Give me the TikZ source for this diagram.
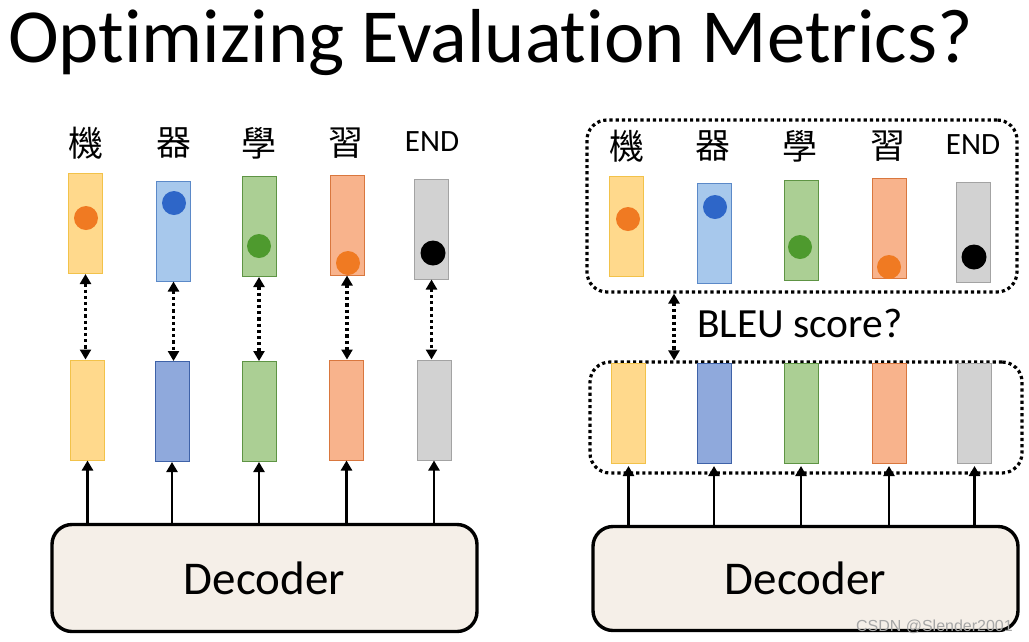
\documentclass[tikz,border=0pt]{standalone}
\usepackage{fontspec}
\setmainfont[Ligatures={NoCommon,NoRare}]{Carlito}
\newfontfamily\cjk{Noto Sans CJK TC}
\newfontfamily\wmfont{Liberation Sans}
\usetikzlibrary{arrows.meta}
\definecolor{yelF}{HTML}{FFD98C}\definecolor{yelD}{HTML}{F2C24A}
\definecolor{bluF}{HTML}{A7C8EC}\definecolor{bluD}{HTML}{5B89C8}
\definecolor{blu2F}{HTML}{8FA9DC}\definecolor{blu2D}{HTML}{3E62A8}
\definecolor{grnF}{HTML}{ABCF94}\definecolor{grnD}{HTML}{5E9444}
\definecolor{orgF}{HTML}{F8B38C}\definecolor{orgD}{HTML}{D9773E}
\definecolor{gryF}{HTML}{D2D2D2}\definecolor{gryD}{HTML}{A3A3A3}
\definecolor{dotO}{HTML}{F07A22}\definecolor{dotB}{HTML}{2E66C8}\definecolor{dotG}{HTML}{4E9A2E}
\definecolor{decF}{HTML}{F5EFE8}
\tikzset{
  vec/.style={minimum width=34pt,minimum height=100pt,inner sep=0pt,line width=1pt},
  vY/.style={vec,fill=yelF,draw=yelD},
  vB/.style={vec,fill=bluF,draw=bluD},
  vB2/.style={vec,fill=blu2F,draw=blu2D},
  vG/.style={vec,fill=grnF,draw=grnD},
  vO/.style={vec,fill=orgF,draw=orgD},
  vK/.style={vec,fill=gryF,draw=gryD},
  ball/.style={circle,inner sep=0pt,minimum size=24pt},
  lab/.style={font=\cjk\fontsize{35}{37}\selectfont,inner sep=0pt},
  endlab/.style={font=\fontsize{31}{33}\selectfont,inner sep=0pt},
  dotline/.style={line width=3.2pt,dash pattern=on 3.2pt off 3pt},
  dotarrow/.style={dotline,{Triangle[width=11pt,length=10pt]}-{Triangle[width=11pt,length=10pt]}},
  uparrow/.style={line width=2.4pt,-{Triangle[width=11pt,length=10pt]}},
  frame/.style={dotline,rounded corners=20pt,inner sep=0pt},
  decoder/.style={draw,line width=3.4pt,fill=decF,rounded corners=20pt,inner sep=0pt,font=\fontsize{47}{50}\selectfont}
}
\begin{document}
\begin{tikzpicture}[x=1pt,y=-1pt]
\useasboundingbox (0,0) rectangle (1029,641);
\node[anchor=base west,inner sep=0pt,font=\fontsize{76.5}{80}\selectfont] (title) at (8,62) {Optimizing Evaluation Metrics?};
% ---------- left ----------
\node[lab] (lc1) at (86,143) {機};
\node[lab] (lc2) at (174,143) {器};
\node[lab] (lc3) at (259,143) {學};
\node[lab] (lc4) at (346,143) {習};
\node[endlab] (lc5) at (432,142) {END};
\node[vY] (L1) at (85.5,223.5) {};
\node[vB] (L2) at (173.5,231) {};
\node[vG] (L3) at (259,226.5) {};
\node[vO] (L4) at (347,225) {};
\node[vK] (L5) at (431.5,229) {};
\node[ball,fill=dotO] (ld1) at (86,218) {};
\node[ball,fill=dotB] (ld2) at (174,203) {};
\node[ball,fill=dotG] (ld3) at (259,246) {};
\node[ball,fill=dotO] (ld4) at (348,263) {};
\node[ball,fill=black,minimum size=25pt] (ld5) at (433,253) {};
\node[vY] (B1) at (87.5,410) {};
\node[vB2] (B2) at (172,411.5) {};
\node[vG] (B3) at (259,411.5) {};
\node[vO] (B4) at (346.5,410) {};
\node[vK] (B5) at (434,410) {};
\node[decoder,minimum width=425pt,minimum height=107pt] (D1) at (264.5,578) {Decoder};
\foreach \i in {1,...,5}{
  \draw[dotarrow] (L\i.south) -- (L\i.south |- B\i.north);
  \draw[uparrow] (B\i.south |- D1.north) -- (B\i.south);
}
% ---------- right ----------
\node[frame,draw,minimum width=430pt,minimum height=172pt] (F1) at (802,206) {};
\node[frame,draw,minimum width=432pt,minimum height=111pt] (F2) at (806,417.5) {};
\node[lab] (rc1) at (627,146) {機};
\node[lab] (rc2) at (713,146) {器};
\node[lab] (rc3) at (800,146) {學};
\node[lab] (rc4) at (888,146) {習};
\node[endlab] (rc5) at (973,145) {END};
\node[vY] (R1) at (626.5,226.5) {};
\node[vB] (R2) at (714.5,233.5) {};
\node[vG] (R3) at (801,230) {};
\node[vO] (R4) at (889,228.5) {};
\node[vK] (R5) at (973.5,232) {};
\node[ball,fill=dotO] (rd1) at (628,219) {};
\node[ball,fill=dotB] (rd2) at (715,207) {};
\node[ball,fill=dotG] (rd3) at (800,247) {};
\node[ball,fill=dotO] (rd4) at (889,267) {};
\node[ball,fill=black,minimum size=25pt] (rd5) at (974,257) {};
\node[vY] (S1) at (628.5,413.5) {};
\node[vB2] (S2) at (714,413.5) {};
\node[vG] (S3) at (801,413.5) {};
\node[vO] (S4) at (889,413.5) {};
\node[vK] (S5) at (974.5,413.5) {};
\node[decoder,minimum width=425pt,minimum height=104pt] (D2) at (805.5,578.5) {Decoder};
\foreach \i in {1,...,5}{
  \draw[uparrow] (S\i.south |- D2.north) -- ([yshift=-2pt]S\i.south);
}
\coordinate (bx) at (674,300);
\draw[dotarrow] (bx |- F1.south) -- (bx |- F2.north);
\node[inner sep=0pt,anchor=west,font=\fontsize{41.5}{44}\selectfont] (bleu) at (697,323) {BLEU score?};
\node[inner sep=0pt,anchor=base east,text=gray!70,font=\wmfont\fontsize{16}{18}\selectfont] (wm) at (1013,631) {CSDN @Slender2001};
\end{tikzpicture}
\end{document}
